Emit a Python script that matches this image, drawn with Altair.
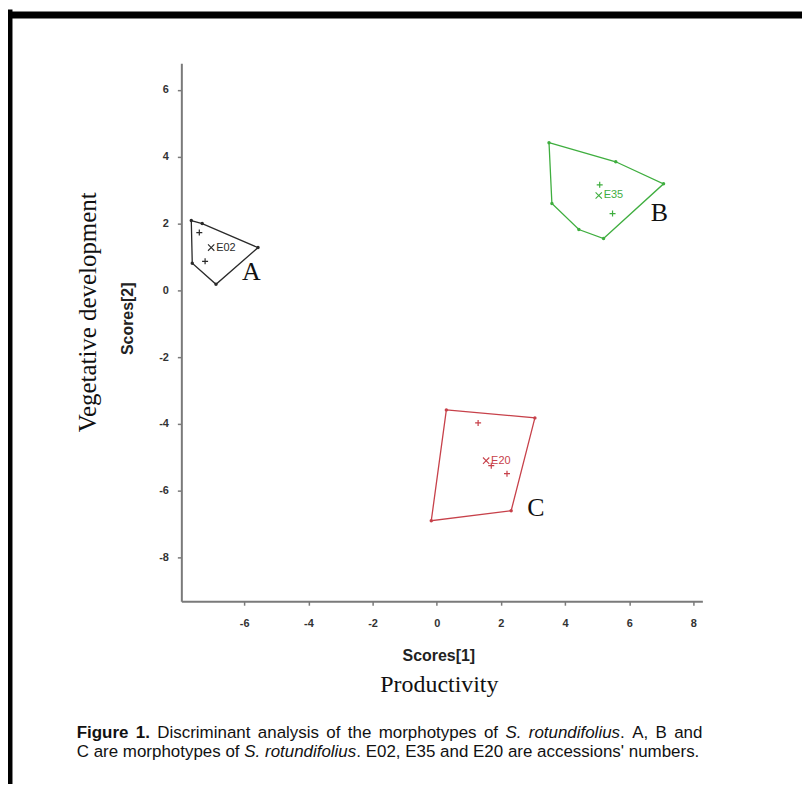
import altair as alt
import pandas as pd

# ---------------- data ----------------
groups = ["A", "B", "C"]
accessions = ["E02", "E35", "E20"]
colors = ["#2a2a2a", "#3fae3f", "#c7414a"]

hull_A_x = [-7.65, -7.31, -5.57, -6.88, -7.62]
hull_A_y = [2.09, 2.00, 1.28, 0.18, 0.81]
hull_B_x = [3.50, 5.58, 7.07, 5.20, 4.43, 3.59]
hull_B_y = [4.42, 3.85, 3.19, 1.55, 1.82, 2.60]
hull_C_x = [0.30, 3.06, 2.32, -0.17]
hull_C_y = [-3.58, -3.82, -6.60, -6.90]

inner_A_x = [-7.40, -7.22]
inner_A_y = [1.73, 0.87]
inner_B_x = [5.08, 5.48]
inner_B_y = [3.16, 2.30]
inner_C_x = [1.29, 2.19, 1.70]
inner_C_y = [-3.97, -5.49, -5.25]

centroid_x = [-7.03, 5.05, 1.54]
centroid_y = [1.28, 2.84, -5.10]

letter_x = [-5.78, 6.94, 3.09]
letter_y = [0.54, 2.30, -6.51]

x_ticks = [-6, -4, -2, 0, 2, 4, 6, 8]
y_ticks = [-8, -6, -4, -2, 0, 2, 4, 6]
x_domain = [-7.96, 8.28]
y_domain = [-9.31, 6.80]

x_title = "Scores[1]"
y_title = "Scores[2]"
x_title2 = "Productivity"
y_title2 = "Vegetative development"

caption_line1 = [[("Figure", "b")], [("1.", "b")], [("Discriminant", "r")], [("analysis", "r")],
                 [("of", "r")], [("the", "r")], [("morphotypes", "r")], [("of", "r")],
                 [("S.", "i")], [("rotundifolius", "i"), (".", "r")], [("A,", "r")],
                 [("B", "r")], [("and", "r")]]
caption_line2 = [[("C", "r")], [("are", "r")], [("morphotypes", "r")], [("of", "r")],
                 [("S.", "i")], [("rotundifolius", "i"), (".", "r")], [("E02,", "r")],
                 [("E35", "r")], [("and", "r")], [("E20", "r")], [("are", "r")],
                 [("accessions'", "r")], [("numbers.", "r")]]

# ---------------- tables ----------------
hull_rows = []
for g, xs, ys in [("A", hull_A_x, hull_A_y), ("B", hull_B_x, hull_B_y), ("C", hull_C_x, hull_C_y)]:
    pts = list(zip(xs, ys)) + [(xs[0], ys[0])]
    for i, (a, b) in enumerate(pts):
        hull_rows.append({"group": g, "x": a, "y": b, "order": i})
hull_df = pd.DataFrame(hull_rows)
vert_df = hull_df[hull_df["order"] > 0]

inner_rows = []
for g, xs, ys in [("A", inner_A_x, inner_A_y), ("B", inner_B_x, inner_B_y), ("C", inner_C_x, inner_C_y)]:
    for a, b in zip(xs, ys):
        inner_rows.append({"group": g, "x": a, "y": b})
inner_df = pd.DataFrame(inner_rows)

cent_df = pd.DataFrame({"group": groups, "acc": accessions, "x": centroid_x, "y": centroid_y})
letter_df = pd.DataFrame({"group": groups, "x": letter_x, "y": letter_y})

# ---------------- encodings ----------------
xs_ = alt.Scale(domain=x_domain, nice=False, zero=False)
ys_ = alt.Scale(domain=y_domain, nice=False, zero=False)
axis_common = dict(grid=False, domainColor="#7a7a7a", domainWidth=2, tickColor="#7a7a7a",
                   tickWidth=1.5, tickSize=4, labelFont="Liberation Sans", labelFontWeight="bold",
                   labelFontSize=11, labelColor="#333333", labelExpr="'' + datum.value",
                   titleFont="Liberation Sans", titleFontSize=16, titleFontWeight="bold",
                   titleColor="#222222", titleBaseline="middle")
xaxis = alt.Axis(values=x_ticks, labelPadding=12, title=x_title, titleX=258, titleY=54, **axis_common)
yaxis = alt.Axis(values=y_ticks, labelPadding=9, title=y_title, titleX=-54, titleY=256,
                 titleAngle=270, **axis_common)
X = alt.X("x:Q", scale=xs_, axis=xaxis)
Y = alt.Y("y:Q", scale=ys_, axis=yaxis)
C = alt.Color("group:N", scale=alt.Scale(domain=groups, range=colors), legend=None)

hulls = alt.Chart(hull_df).mark_line(strokeWidth=1.3).encode(x=X, y=Y, color=C, detail="group:N",
                                                              order="order:Q")
verts = alt.Chart(vert_df).mark_point(shape="circle", filled=True, size=12, opacity=1).encode(
    x=X, y=Y, color=C)
plus = alt.Chart(inner_df).mark_point(shape="M-1,0L1,0M0,-1L0,1", filled=False, size=36,
                                      strokeWidth=1.2, opacity=1).encode(x=X, y=Y, color=C)
cross = alt.Chart(cent_df).mark_point(shape="M-1,-1L1,1M-1,1L1,-1", filled=False, size=40,
                                      strokeWidth=1.1, opacity=1).encode(x=X, y=Y, color=C)
acc_lbl = alt.Chart(cent_df).mark_text(align="left", baseline="middle", dx=5, font="Liberation Sans",
                                       fontSize=11).encode(x=X, y=Y, color=C, text="acc:N")
letters = alt.Chart(letter_df).mark_text(align="center", baseline="middle", font="Liberation Serif",
                                         fontSize=26, color="#111111").encode(x=X, y=Y, text="group:N")

one = pd.DataFrame({"d": [0]})


def txt(text, x, y, **kw):
    return alt.Chart(one).mark_text(text=text, **kw).encode(x=alt.value(x), y=alt.value(y))


decor = [
    txt(x_title2, 259, 624, font="Liberation Serif", fontSize=24, color="#111111",
        align="center", baseline="middle"),
    txt(y_title2, -94, 250, font="Liberation Serif", fontSize=25, color="#111111",
        align="center", baseline="middle", angle=270),
    alt.Chart(one).mark_rule(color="black", strokeWidth=7).encode(
        x=alt.value(-174), x2=alt.value(623), y=alt.value(-48.5)),
    alt.Chart(one).mark_rule(color="black", strokeWidth=5).encode(
        x=alt.value(-172), y=alt.value(-54), y2=alt.value(730)),
]

# ---------------- caption layout (Arial / Liberation Sans metrics) ----------------
REG = {' ': 278, "'": 191, ',': 278, '.': 278, '0': 556, '1': 556, '2': 556, '3': 556, '5': 556,
       'A': 667, 'B': 667, 'C': 722, 'D': 722, 'E': 667, 'F': 611, 'S': 667,
       'a': 556, 'b': 556, 'c': 500, 'd': 556, 'e': 556, 'f': 278, 'g': 556, 'h': 556, 'i': 222,
       'l': 222, 'm': 833, 'n': 556, 'o': 556, 'p': 556, 'r': 333, 's': 500, 't': 278, 'u': 556,
       'v': 500, 'y': 500}
BOLD = {' ': 278, '.': 278, '1': 556, 'F': 611, 'i': 278, 'g': 611, 'u': 611, 'r': 389, 'e': 556}
CAP_SIZE = 17
CAP_LEFT = 77 - 182
CAP_RIGHT = 705 - 182


def w(s, style):
    t = BOLD if style == "b" else REG
    return sum(t.get(ch, 556) for ch in s) * CAP_SIZE / 1000


def layout(words, y, justify):
    widths = [sum(w(s, st) for s, st in word) for word in words]
    space = REG[' '] * CAP_SIZE / 1000
    if justify:
        space = (CAP_RIGHT - CAP_LEFT - sum(widths)) / (len(words) - 1)
    out = []
    x = CAP_LEFT
    for word, ww in zip(words, widths):
        xx = x
        for s, st in word:
            out.append((s, xx, y, st))
            xx += w(s, st)
        x += ww + space
    return out


runs = layout(caption_line1, 677, True) + layout(caption_line2, 696, False)
for s, x, y, st in runs:
    decor.append(txt(s, x, y, font="Liberation Sans", fontSize=CAP_SIZE, color="#111111",
                     align="left", baseline="alphabetic",
                     fontWeight="bold" if st == "b" else "normal",
                     fontStyle="italic" if st == "i" else "normal"))

chart = alt.layer(hulls, verts, plus, cross, acc_lbl, letters, *decor).properties(
    width=523, height=540,
    padding={"left": 174, "top": 54, "right": 100, "bottom": 182},
    autosize=alt.AutoSizeParams(type="none"),
    background="white",
).configure_view(strokeWidth=0, stroke="transparent")

chart.save("out.html", embed_options={"renderer": "svg", "actions": False})
